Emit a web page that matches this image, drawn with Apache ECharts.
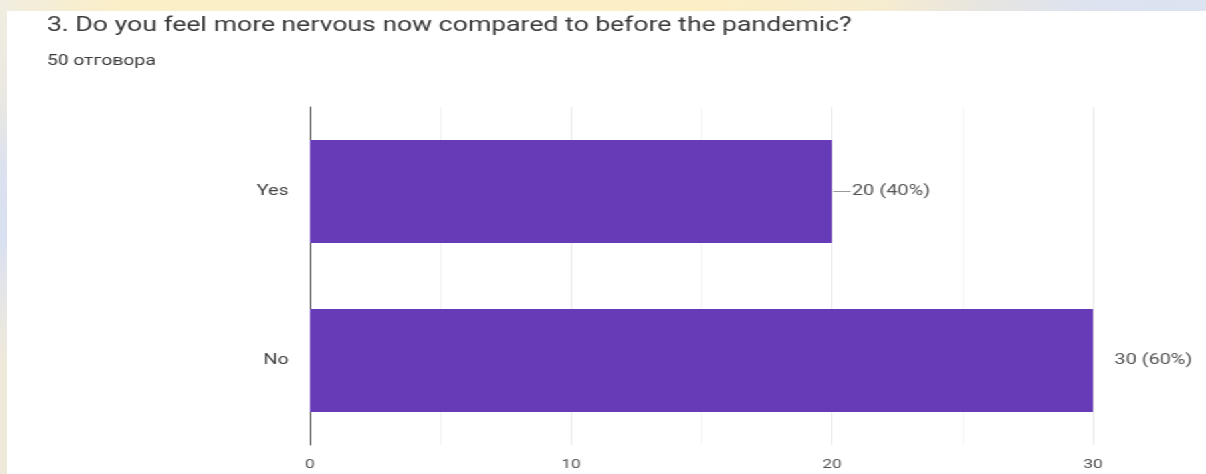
<!DOCTYPE html>
<html>
<head>
<meta charset="utf-8">
<script src="https://cdn.jsdelivr.net/npm/echarts@6/dist/echarts.min.js"></script>
<style>
  html, body { margin: 0; padding: 0; width: 1206px; height: 474px; overflow: hidden; background: #ffffff; }
  #topband { position: absolute; left: 0; top: 0; width: 1206px; height: 11px;
    background: linear-gradient(to right, #f1ede0 0px, #fbefc8 120px, #fcefc6 700px, #f6ecd0 880px, #e7e5e0 980px, #dde3ef 1080px, #dce3f1 1206px); }
  #leftband { position: absolute; left: 0; top: 0; width: 7px; height: 474px;
    background: linear-gradient(to bottom, #f1ede0 0px, #eae8e2 100px, #dbe1ef 170px, #d9e0f1 240px, #e6e6e6 300px, #efe9da 360px, #efe9da 474px); }
  /* the reference screenshot is stretched horizontally; reproduce that stretch */
  #chart { position: absolute; left: 7px; top: 11px; width: 902px; height: 463px; background: #ffffff;
    transform: scaleX(1.3293); transform-origin: 0 0; }
</style>
</head>
<body>
<div id="topband"></div>
<div id="leftband"></div>
<div id="chart"></div>
<script>
const titleText = '3. Do you feel more nervous now compared to before the pandemic?';
const subtitleText = '50 отговора';
const categories = ['Yes', 'No'];
const counts = [20, 30];
const percents = [40, 60];
const leaderLines = [true, false];
const xTicks = [0, 10, 20, 30];

const chart = echarts.init(document.getElementById('chart'), null, { renderer: 'canvas' });

const seriesData = counts.map((v, i) => ({
  value: v,
  label: leaderLines[i]
    ? { distance: 1, formatter: '{ln|}{t|' + v + ' (' + percents[i] + '%)}' }
    : { distance: 15, formatter: '{t|' + v + ' (' + percents[i] + '%)}' }
}));

chart.setOption({
  animation: false,
  backgroundColor: '#ffffff',
  textStyle: { fontFamily: 'Roboto' },
  title: {
    text: titleText,
    subtext: subtitleText,
    left: 25,
    top: 0,
    itemGap: 18,
    textStyle: { fontFamily: 'Roboto', fontSize: 20, fontWeight: 'normal', color: '#3a3a3a' },
    subtextStyle: { fontFamily: 'Roboto', fontSize: 14.5, color: '#3a3a3a' }
  },
  grid: { left: 228, right: 85, top: 96, bottom: 29, containLabel: false },
  xAxis: {
    type: 'value',
    min: xTicks[0],
    max: xTicks[xTicks.length - 1],
    interval: xTicks[1] - xTicks[0],
    axisLine: { show: false },
    axisTick: { show: false },
    axisLabel: { color: '#555555', fontSize: 13, margin: 13, fontFamily: 'Roboto' },
    splitLine: { show: true, lineStyle: { color: '#e8e8e8', width: 1 } },
    minorTick: { show: false, splitNumber: 2 },
    minorSplitLine: { show: true, lineStyle: { color: '#f3f3f3', width: 1 } }
  },
  yAxis: {
    type: 'category',
    data: categories,
    inverse: true,
    axisLine: { show: true, onZero: false, lineStyle: { color: '#444444', width: 1 } },
    axisTick: { show: false },
    axisLabel: { color: '#444444', fontSize: 15, margin: 16, fontFamily: 'Roboto' },
    splitLine: { show: false }
  },
  series: [{
    type: 'bar',
    data: seriesData,
    barCategoryGap: '39%',
    itemStyle: { color: '#673ab7' },
    z: 3,
    label: {
      show: true,
      position: 'right',
      rich: {
        ln: { width: 13, height: 1, backgroundColor: '#9a9a9a' },
        t: { color: '#555555', fontSize: 15, fontFamily: 'Roboto', padding: [0, 0, 0, 1] }
      }
    }
  }]
});
</script>
</body>
</html>
